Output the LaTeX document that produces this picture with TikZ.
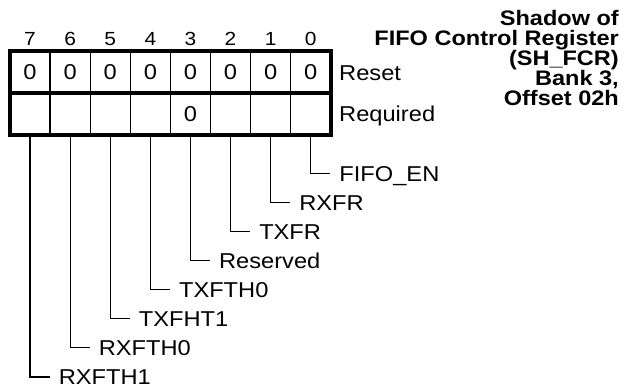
\documentclass[tikz,border=0pt]{standalone}
\usepackage{fontspec}
\setmainfont{Liberation Sans}[FakeStretch=1.1]
\newfontfamily\titlefont{Liberation Sans}[FakeStretch=1.12]
\begin{document}
\begin{tikzpicture}[x=1pt,y=-1pt,
  font=\fontsize{21.5}{22}\selectfont,
  cell/.style={draw, line width=1.3pt, minimum width=40.2pt, minimum height=42pt,
    inner sep=0pt, outer sep=0pt, text height=15pt, text depth=0pt},
  bitnum/.style={font=\fontsize{19}{19}\selectfont, inner sep=0pt, text height=13.5pt, text depth=0pt},
  side/.style={anchor=west, inner sep=0pt, text height=15pt, text depth=0pt},
  fieldlabel/.style={anchor=west, inner ysep=0pt, inner xsep=9pt, text height=15pt, text depth=0pt},
  leader/.style={line width=1.3pt},
  frame/.style={line width=3.8pt},
  title/.style={anchor=base east, inner sep=0pt, font=\titlefont\bfseries\fontsize{21}{21}\selectfont}]
\useasboundingbox (0,0) rectangle (632,388);
% cells
\foreach \b in {0,...,7}{
  \pgfmathsetmacro\cx{10+40.1*(7-\b)+20.05}
  \node[bitnum] (n\b) at (\cx,39) {\b};
  \node[cell] (a\b) at (\cx,72) {0};
  \node[cell] (r\b) at (\cx,114) {};
}
\node[inner sep=0pt, text height=15pt, text depth=0pt] (req3) at (r3.center) {0};
% frame
\draw[frame] (a7.north west) rectangle (r0.south east);
\draw[frame] (a7.south west) -- (a0.south east);
% side labels
\node[side] (reset) at (339,73) {Reset};
\node[side] (required) at (339,113.5) {Required};
% title
\node[title] (t1) at (619,25.5) {Shadow of};
\node[title] (t2) at (619,45.5) {FIFO Control Register};
\node[title] (t3) at (619,65.5) {(SH\_FCR)};
\node[title] (t4) at (619,85.5) {Bank 3,};
\node[title] (t5) at (619,105.5) {Offset 02h};
% field labels
\foreach \b/\t in {0/FIFO\_EN,1/RXFR,2/TXFR,3/Reserved,4/TXFTH0,5/TXFHT1,6/RXFTH0,7/RXFTH1}{
  \pgfmathsetmacro\cx{10+40.1*(7-\b)+20.05}
  \pgfmathsetmacro\ly{173.5+29.05*\b}
  \node[fieldlabel] (f\b) at (\cx+19.5,\ly) {\t};
  \draw[leader] (r\b.south) |- (f\b.west);
}
\end{tikzpicture}
\end{document}
